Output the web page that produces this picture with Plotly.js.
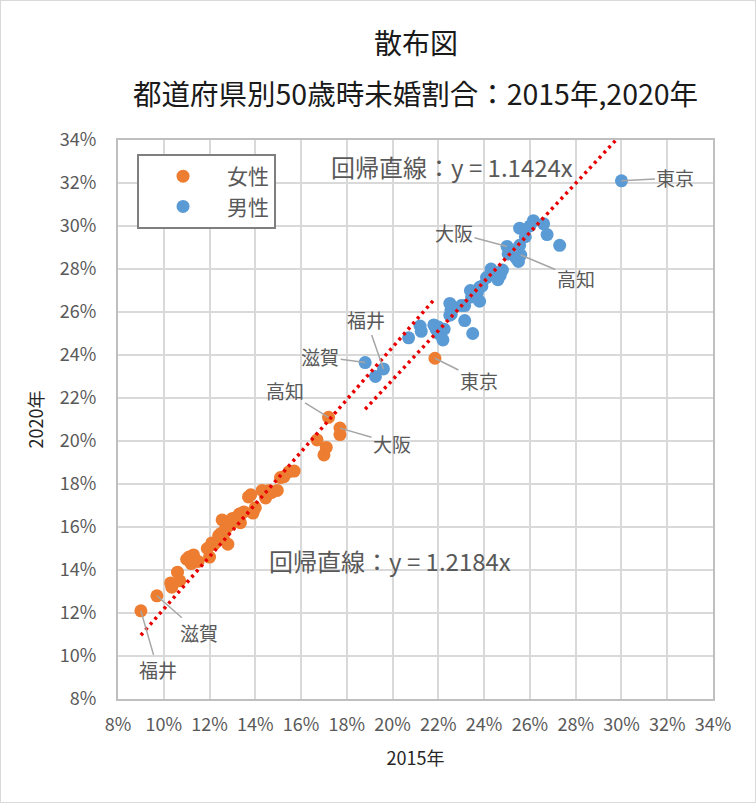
<!DOCTYPE html>
<html>
<head>
<meta charset="utf-8">
<script src="https://cdn.plot.ly/plotly-3.0.1.min.js"></script>
<style>
  html, body { margin: 0; padding: 0; background: #fff; }
  #chart { width: 754px; height: 801px; border: 1px solid #d9d9d9; }
</style>
</head>
<body>
<div id="chart"></div>
<script>
// 50歳時未婚割合 (%) : x = 2015年, y = 2020年
const femaleX = [9.0, 9.7, 10.3, 10.35, 10.6, 10.7, 11.1, 11.3, 11.2, 11.5, 11.9, 12.2, 12.0, 12.55, 12.7, 12.6, 12.8, 12.9, 13.2, 13.3, 13.35, 13.5, 13.7, 13.8, 13.9, 14.0, 14.3, 14.45, 14.7, 14.96, 15.25, 15.47, 15.7, 16.7, 17.0, 17.1, 17.2, 17.7, 17.7, 21.85, 12.4, 13.0, 14.6, 11.0, 12.5, 15.1, 12.1];
const femaleY = [12.1, 12.8, 13.4, 13.2, 13.9, 13.5, 14.6, 14.7, 14.3, 14.4, 15.0, 15.2, 14.6, 16.33, 15.9, 15.5, 15.2, 16.1, 16.3, 16.6, 16.2, 16.7, 17.4, 17.5, 16.65, 16.9, 17.7, 17.35, 17.6, 17.7, 18.34, 18.57, 18.6, 20.05, 19.35, 19.7, 21.1, 20.6, 20.3, 23.85, 15.6, 16.4, 17.7, 14.5, 15.7, 18.3, 15.26];

const maleX = [30.0, 26.15, 26.6, 25.55, 26.75, 27.3, 25.8, 25.0, 25.55, 25.05, 25.6, 25.5, 24.3, 24.8, 24.6, 23.8, 23.4, 23.45, 23.8, 23.15, 22.5, 22.55, 22.5, 23.15, 23.5, 21.8, 22.25, 22.2, 21.2, 21.25, 20.7, 22.0, 18.8, 19.6, 19.25, 23.0, 22.56, 24.4, 25.1, 23.7, 22.0, 24.1, 25.4, 24.7, 26.0, 23.9, 21.9];
const maleY = [32.1, 30.25, 30.1, 29.9, 29.6, 29.1, 29.5, 29.05, 29.1, 28.7, 28.65, 28.35, 28.0, 27.95, 27.5, 27.15, 27.0, 26.7, 26.5, 26.3, 26.4, 26.1, 25.85, 25.6, 25.0, 25.4, 25.2, 24.7, 25.35, 25.1, 24.8, 25.0, 23.65, 23.35, 23.0, 26.3, 25.9, 27.8, 28.9, 26.9, 25.3, 27.6, 28.5, 27.7, 30.0, 27.2, 25.2];

// 回帰直線 (原点通過)
const femaleSlope = 1.2184;
const maleSlope = 1.1424;
const femaleTrendX = [9.0, 21.8];
const maleTrendX = [18.8, 30.0];

// ラベル付きの点: [インデックス, 名称, テキスト位置ずれ ax, ay]
const femaleLabels = [[0, '福井', 17, 59], [1, '滋賀', 42, 37], [36, '高知', -44, -27], [37, '大阪', 52, 15], [39, '東京', 44, 22]];
const maleLabels = [[0, '東京', 54, -3], [7, '大阪', -53, -14], [10, '高知', 55, 23], [33, '福井', -17, -49], [32, '滋賀', -45, -6]];

const ticks = [8, 10, 12, 14, 16, 18, 20, 22, 24, 26, 28, 30, 32, 34];

const FONT = '"Noto Sans CJK JP", "Noto Sans", sans-serif';
const GRAY = '#595959';

const traces = [
  {
    x: femaleX, y: femaleY, name: '女性', mode: 'markers', type: 'scatter',
    marker: { size: 13, color: '#ED7D31' },
  },
  {
    x: maleX, y: maleY, name: '男性', mode: 'markers', type: 'scatter',
    marker: { size: 13, color: '#5B9BD5' },
  },
  {
    x: femaleTrendX, y: femaleTrendX.map(v => v * femaleSlope),
    mode: 'lines', type: 'scatter', showlegend: false, hoverinfo: 'skip',
    line: { color: '#E80000', width: 3.5, dash: '3px,4px' },
  },
  {
    x: maleTrendX, y: maleTrendX.map(v => v * maleSlope),
    mode: 'lines', type: 'scatter', showlegend: false, hoverinfo: 'skip',
    line: { color: '#E80000', width: 3.5, dash: '3px,4px' },
  },
];

const labelAnn = (xs, ys) => ([i, name, ax, ay]) => ({
  x: xs[i], y: ys[i], xref: 'x', yref: 'y', text: name,
  showarrow: true, arrowhead: 0, arrowwidth: 1.5, arrowcolor: '#a6a6a6',
  ax: ax, ay: ay, standoff: 0,
  font: { family: FONT, size: 19, color: GRAY },
});

const annotations = [
  { text: '散布図', xref: 'paper', yref: 'paper', x: 0.5, y: 1 + 98 / 559,
    xanchor: 'center', yanchor: 'middle', showarrow: false,
    font: { family: FONT, size: 28, color: '#1a1a1a' } },
  { text: '都道府県別50歳時未婚割合：2015年,2020年', xref: 'paper', yref: 'paper', x: 0.5, y: 1 + 48 / 559,
    xanchor: 'center', yanchor: 'middle', showarrow: false,
    font: { family: FONT, size: 28.5, color: '#1a1a1a' } },
  { text: '回帰直線：y = 1.1424x', xref: 'x', yref: 'y', x: 22.6, y: 32.75, showarrow: false,
    font: { family: FONT, size: 24, color: GRAY } },
  { text: '回帰直線：y = 1.2184x', xref: 'x', yref: 'y', x: 19.9, y: 14.45, showarrow: false,
    font: { family: FONT, size: 24, color: GRAY } },
  ...femaleLabels.map(labelAnn(femaleX, femaleY)),
  ...maleLabels.map(labelAnn(maleX, maleY)),
];

const axisCommon = {
  range: [8, 34], tickvals: ticks, ticktext: ticks.map(t => t + '%'),
  showgrid: true, gridcolor: '#d9d9d9', gridwidth: 2,
  showline: true, linecolor: '#bfbfbf', linewidth: 2, mirror: true,
  zeroline: false, ticks: '', ticklabelstandoff: 8,
  tickfont: { family: FONT, size: 18, color: GRAY },
};

const layout = {
  width: 754, height: 801,
  margin: { l: 117, r: 42, t: 139, b: 103 },
  paper_bgcolor: '#ffffff', plot_bgcolor: '#ffffff',
  font: { family: FONT },
  showlegend: true,
  legend: {
    x: 0.032, y: 0.975, xanchor: 'left', yanchor: 'top',
    bordercolor: '#7f7f7f', borderwidth: 2, bgcolor: '#ffffff',
    font: { family: FONT, size: 21, color: GRAY },
    itemwidth: 78, tracegroupgap: 4,
  },
  xaxis: Object.assign({}, axisCommon, {
    title: { text: '2015年', font: { family: FONT, size: 18, color: '#262626' }, standoff: 18 },
  }),
  yaxis: Object.assign({}, axisCommon, {
    ticklabelstandoff: 16,
    title: { text: '2020年', font: { family: FONT, size: 18, color: '#262626' }, standoff: 12 },
  }),
  annotations: annotations,
  hovermode: 'closest',
};

Plotly.newPlot('chart', traces, layout, { displayModeBar: false, staticPlot: true });
</script>
</body>
</html>
